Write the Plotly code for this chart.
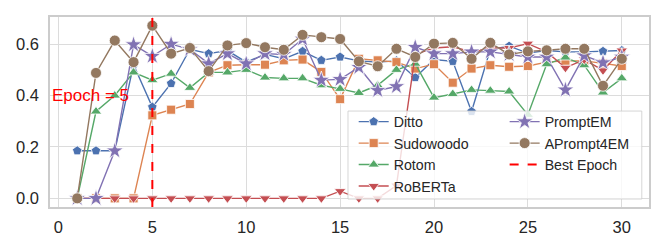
import plotly.graph_objects as go

epochs = list(range(1, 31))
best_epoch = 5

ditto = [0.185, 0.185, 0.185, 0.52, 0.355, 0.447, 0.58, 0.563, 0.575, 0.53, 0.56, 0.543, 0.572, 0.537, 0.55,
         0.535, 0.53, 0.535, 0.47, 0.54, 0.533, 0.338, 0.58, 0.592, 0.565, 0.575, 0.57, 0.57, 0.572, 0.575]
sudowoodo = [0, 0, 0, 0, 0.323, 0.345, 0.367, 0.49, 0.518, 0.52, 0.52, 0.537, 0.54, 0.492, 0.386,
             0.543, 0.537, 0.53, 0.505, 0.522, 0.45, 0.505, 0.518, 0.512, 0.515, 0.53, 0.535, 0.535, 0.525, 0.515]
rotom = [0, 0.338, 0.40, 0.49, 0.46, 0.485, 0.43, 0.49, 0.49, 0.50, 0.47, 0.467, 0.467, 0.44, 0.426,
         0.41, 0.44, 0.50, 0.524, 0.392, 0.406, 0.422, 0.419, 0.416, 0.325, 0.522, 0.548, 0.518, 0.412, 0.467]
roberta = [0, 0, 0, 0, 0, 0, 0, 0, 0, 0, 0, 0, 0, 0, 0.028,
           0, 0, 0.05, 0.56, 0.585, 0.59, 0.57, 0.585, 0.585, 0.602, 0.57, 0.508, 0.54, 0.498, 0.575]
promptem = [0, 0, 0.185, 0.598, 0.553, 0.6, 0.58, 0.524, 0.563, 0.524, 0.563, 0.56, 0.62, 0.46, 0.463,
            0.51, 0.42, 0.435, 0.588, 0.563, 0.563, 0.57, 0.57, 0.56, 0.55, 0.55, 0.422, 0.555, 0.528, 0.55]
aprompt4em = [0, 0.488, 0.614, 0.53, 0.672, 0.563, 0.585, 0.495, 0.595, 0.604, 0.588, 0.578, 0.636, 0.627, 0.62,
              0.533, 0.514, 0.582, 0.55, 0.602, 0.605, 0.543, 0.605, 0.56, 0.572, 0.576, 0.582, 0.582, 0.438, 0.543]

x_ticks = [0, 5, 10, 15, 20, 25, 30]
y_ticks = [0.0, 0.2, 0.4, 0.6]

series = [
    ("Ditto", ditto, "#4C72B0", "pentagon", 10, "legend"),
    ("Sudowoodo", sudowoodo, "#DD8452", "square", 9, "legend"),
    ("Rotom", rotom, "#55A868", "triangle-up", 10, "legend"),
    ("RoBERTa", roberta, "#C44E52", "triangle-down", 10, "legend"),
    ("PromptEM", promptem, "#8172B3", "star", 13, "legend2"),
    ("APrompt4EM", aprompt4em, "#937860", "circle", 11, "legend2"),
]

FONT = "Liberation Sans, Arial, sans-serif"
fig = go.Figure()
for name, vals, color, sym, size, lg in series:
    fig.add_trace(go.Scatter(
        x=epochs, y=vals, mode="lines+markers", name=name, legend=lg,
        line=dict(color=color, width=1.4),
        marker=dict(symbol=sym, size=size, color=color, line=dict(color="white", width=0.8)),
    ))

fig.add_trace(go.Scatter(
    x=[None], y=[None], mode="lines", name="Best Epoch", legend="legend2",
    line=dict(color="red", width=2, dash="dash"),
))

fig.add_shape(type="line", x0=best_epoch, x1=best_epoch, xref="x", y0=0, y1=1, yref="y domain",
              line=dict(color="red", width=2, dash="dash"), layer="above")
fig.add_shape(type="rect", xref="paper", yref="paper", x0=0.4975, x1=0.988, y0=0.042, y1=0.505,
              fillcolor="rgba(255,255,255,0.8)", line=dict(color="rgba(204,204,204,0.8)", width=1),
              layer="above")

fig.add_annotation(x=best_epoch, y=0.4, xref="x", yref="y", text="Epoch = 5", showarrow=False,
                   xanchor="right", xshift=-21, font=dict(color="red", size=17, family=FONT))

leg_common = dict(bgcolor="rgba(0,0,0,0)", borderwidth=0, font=dict(size=14.2, family=FONT, color="#262626"),
                  xanchor="left", yanchor="top", tracegroupgap=0)
fig.update_layout(
    width=664, height=249,
    margin=dict(l=42, r=23, t=7, b=50),
    paper_bgcolor="white", plot_bgcolor="white",
    font=dict(family=FONT, size=16.5, color="#262626"),
    legend=dict(x=0.507, y=0.532, **leg_common),
    legend2=dict(x=0.759, y=0.532, **leg_common),
    xaxis=dict(range=[-0.45, 31.45], tickvals=x_ticks, showgrid=True, gridcolor="#dcdcdc", gridwidth=1,
               showline=True, linecolor="#cccccc", linewidth=1.5, mirror=True, zeroline=False,
               ticks="", ticklabelstandoff=4),
    yaxis=dict(range=[-0.0336, 0.7056], tickvals=y_ticks, tickformat=".1f", showgrid=True,
               gridcolor="#dcdcdc", gridwidth=1, showline=True, linecolor="#cccccc", linewidth=1.5,
               mirror=True, zeroline=False, ticks="", ticklabelstandoff=6),
)

fig.write_html("out.html")
